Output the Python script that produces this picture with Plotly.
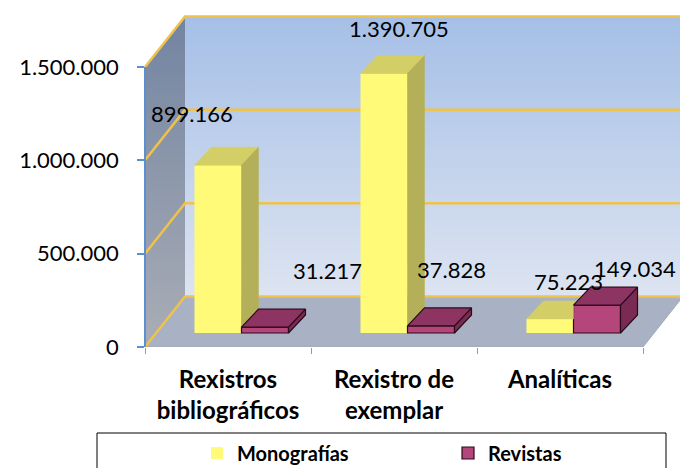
import plotly.graph_objects as go

# ---------------- data ----------------
categories = ["Rexistros<br>bibliográficos", "Rexistro de<br>exemplar", "Analíticas"]
series_names = ["Monografías", "Revistas"]
monografias = [899166, 1390705, 75223]
revistas = [31217, 37828, 149034]
y_tick_values = [0, 500000, 1000000, 1500000]
y_tick_labels = ["0", "500.000", "1.000.000", "1.500.000"]

# ---------------- geometry / style ----------------
W, H = 680, 468
ML, MR, MT, MB = 140, 0, 0, 121
PLOT_W = W - ML - MR
PLOT_H = H - MT - MB
PX_X = 166.0                       # px per category
PX_Y = 280.0 / 1.5e6               # px per value unit
X0_PX = 5.0                        # front axis offset inside plot area
XR = [-X0_PX / PX_X, (PLOT_W - X0_PX) / PX_X]
YR = [0, PLOT_H / PX_Y]
NCAT = len(categories)
YMAX = y_tick_values[-1]

DX = 40.0 / PX_X                   # depth of the box (x)
DY = 50.5 / PX_Y                   # depth of the box (y)
BAR_SHIFT = 13.5 / PX_X
BAR_W = 47.0 / PX_X
BAR_BASE = 14.0 / PX_Y
BAR_DX = 17.0 / PX_X
BAR_DY = 18.0 / PX_Y
K = BAR_DY / BAR_DX

FONT = "Lato"
MONO_FRONT, MONO_TOP, MONO_SIDE = "#FFFB78", "#D3CF66", "#B4B05A"
REV_FRONT, REV_TOP, REV_SIDE, REV_EDGE = "#B4467B", "#8E3462", "#7A2B54", "#2A0A18"
GOLD = "#EFC24A"

label_shifts = {
    "Monografías": [(-26, 52), (15, 45), (18, 37)],
    "Revistas": [(62, 57), (20, 56), (38, 37)],
}


def fmt(v):
    return f"{v:,}".replace(",", ".")


def px_x(p):
    return (p - ML) / PLOT_W


def px_y(p):
    return (PLOT_H - p) / PLOT_H


fig = go.Figure()

# ---------- walls & floor (base subplot) ----------
fig.add_trace(go.Scatter(
    x=[DX, NCAT + DX, NCAT + DX, DX, DX],
    y=[DY, DY, YMAX + DY, YMAX + DY, DY],
    fill="toself", mode="lines", line=dict(width=0),
    fillgradient=dict(type="vertical", colorscale=[[0, "#DDE4F1"], [1, "#A5BFE6"]]),
    hoverinfo="skip", showlegend=False))
fig.add_trace(go.Scatter(
    x=[0, DX, DX, 0, 0],
    y=[0, DY, YMAX + DY, YMAX, 0],
    fill="toself", mode="lines", line=dict(width=0),
    fillgradient=dict(type="vertical", colorscale=[[0, "#A9ADB6"], [1, "#7384A1"]]),
    hoverinfo="skip", showlegend=False))
fig.add_trace(go.Scatter(
    x=[0, NCAT, NCAT + DX, DX, 0],
    y=[0, 0, DY, DY, 0],
    fill="toself", mode="lines", line=dict(width=1, color="#A3A9B5"),
    fillcolor="#A9B2C4", hoverinfo="skip", showlegend=False))

gx, gy = [], []
for v in y_tick_values:
    gx += [0, DX, NCAT + DX, None]
    gy += [v, v + DY, v + DY, None]
fig.add_trace(go.Scatter(x=gx, y=gy, mode="lines", line=dict(color=GOLD, width=2.5),
                         hoverinfo="skip", showlegend=False))

# ---------- bars (overlay subplot) ----------
centers = [i + 0.5 + BAR_SHIFT for i in range(NCAT)]
fig.add_trace(go.Bar(
    x=centers, y=monografias, base=BAR_BASE, width=BAR_W, offset=-BAR_W,
    marker=dict(color=MONO_FRONT, line=dict(width=0)),
    name=series_names[0], xaxis="x2", yaxis="y2", legend="legend"))
fig.add_trace(go.Bar(
    x=centers, y=revistas, base=BAR_BASE, width=BAR_W, offset=0,
    marker=dict(color=REV_FRONT, line=dict(width=1.2, color=REV_EDGE)),
    name=series_names[1], xaxis="x2", yaxis="y2", legend="legend2"))

# faces for Monografías (clipped where hidden by Revistas)
for i, c in enumerate(centers):
    vm, vr = monografias[i], revistas[i]
    xl, xr = c - BAR_W, c
    t = BAR_BASE + vm
    if vr <= vm:
        tx = [xl, xr, xr + BAR_DX, xl + BAR_DX, xl]
        ty = [t, t, t + BAR_DY, t + BAR_DY, t]
    else:
        e = min(vr, vm + BAR_DY)
        xcut = xr + max(0.0, (vm + BAR_DY - vr)) / K
        tx = [xl, xr, xr, xcut, xl + BAR_DX, xl]
        ty = [t, t, BAR_BASE + e, t + BAR_DY, t + BAR_DY, t]
    fig.add_trace(go.Scatter(x=tx, y=ty, fill="toself", mode="lines",
                             line=dict(width=0.5, color=MONO_TOP), fillcolor=MONO_TOP,
                             xaxis="x2", yaxis="y2", hoverinfo="skip", showlegend=False))
    if vm > vr:
        b = BAR_BASE + vr
        sx = [xr, xr, xr + BAR_DX, xr + BAR_DX, xr]
        sy = [b, t, t + BAR_DY, b + BAR_DY, b]
        fig.add_trace(go.Scatter(x=sx, y=sy, fill="toself", mode="lines",
                                 line=dict(width=0.5, color=MONO_SIDE), fillcolor=MONO_SIDE,
                                 xaxis="x2", yaxis="y2", hoverinfo="skip", showlegend=False))

# faces for Revistas
for i, c in enumerate(centers):
    v = revistas[i]
    xl, xr = c, c + BAR_W
    t = BAR_BASE + v
    b = BAR_BASE
    fig.add_trace(go.Scatter(
        x=[xr, xr, xr + BAR_DX, xr + BAR_DX, xr],
        y=[b, t, t + BAR_DY, b + BAR_DY, b],
        fill="toself", mode="lines", line=dict(width=1.2, color=REV_EDGE), fillcolor=REV_SIDE,
        xaxis="x2", yaxis="y2", hoverinfo="skip", showlegend=False))
    fig.add_trace(go.Scatter(
        x=[xl, xr, xr + BAR_DX, xl + BAR_DX, xl],
        y=[t, t, t + BAR_DY, t + BAR_DY, t],
        fill="toself", mode="lines", line=dict(width=1.2, color=REV_EDGE), fillcolor=REV_TOP,
        xaxis="x2", yaxis="y2", hoverinfo="skip", showlegend=False))

# dummy trace for the visible value axis
fig.add_trace(go.Scatter(x=[None], y=[None], xaxis="x", yaxis="y3",
                         showlegend=False, hoverinfo="skip"))

# data labels
for name, vals, off in ((series_names[0], monografias, -BAR_W / 2),
                        (series_names[1], revistas, BAR_W / 2)):
    for i, v in enumerate(vals):
        xs, ys = label_shifts[name][i]
        fig.add_annotation(x=centers[i] + off, y=BAR_BASE + v, xref="x2", yref="y2",
                           text=fmt(v), showarrow=False, xshift=xs, yshift=ys,
                           font=dict(family=FONT, size=22, color="black"))

# legend frame
fig.add_shape(type="rect", xref="paper", yref="paper",
              x0=px_x(97), x1=px_x(666), y0=px_y(475), y1=px_y(433),
              line=dict(color="black", width=1), fillcolor="rgba(0,0,0,0)")

legend_common = dict(orientation="h", xanchor="left", yanchor="middle",
                     y=px_y(453),
                     font=dict(family=FONT, size=20, color="black", weight="bold"),
                     bgcolor="rgba(0,0,0,0)", borderwidth=0)

fig.update_layout(
    width=W, height=H,
    margin=dict(l=ML, r=MR, t=MT, b=MB, autoexpand=False),
    paper_bgcolor="white", plot_bgcolor="rgba(0,0,0,0)",
    barmode="overlay",
    separators=",.",
    showlegend=True,
    legend=dict(x=px_x(197), **legend_common),
    legend2=dict(x=px_x(448), **legend_common),
    xaxis=dict(range=XR, showgrid=False, zeroline=False, showline=False,
               tickmode="array", tickvals=[i + 0.5 for i in range(NCAT)], ticktext=categories,
               ticks="", ticklabelstandoff=16,
               tickfont=dict(family=FONT, size=24, color="black", weight="bold"),
               minor=dict(tickmode="array", tickvals=list(range(NCAT + 1)), ticks="outside",
                          ticklen=6, tickcolor="#9A9A9A", tickwidth=1, showgrid=False),
               fixedrange=True),
    yaxis=dict(range=YR, visible=False, fixedrange=True),
    xaxis2=dict(range=XR, overlaying="x", visible=False, fixedrange=True),
    yaxis2=dict(range=YR, overlaying="y", visible=False, fixedrange=True),
    yaxis3=dict(range=[0, YMAX], domain=[0, YMAX / YR[1]], anchor="free",
                position=X0_PX / PLOT_W, side="left",
                showline=True, linecolor="#5B8FD0", linewidth=1.5,
                ticks="outside", ticklen=7, tickcolor="#5B8FD0", tickwidth=1.5,
                tickmode="array", tickvals=y_tick_values, ticktext=y_tick_labels,
                ticklabelstandoff=14,
                tickfont=dict(family=FONT, size=22, color="black"),
                showgrid=False, zeroline=False, fixedrange=True),
)

fig.write_html("out.html", config={"displayModeBar": False},
               post_script="document.body.style.margin='0';document.body.style.overflow='hidden';")
